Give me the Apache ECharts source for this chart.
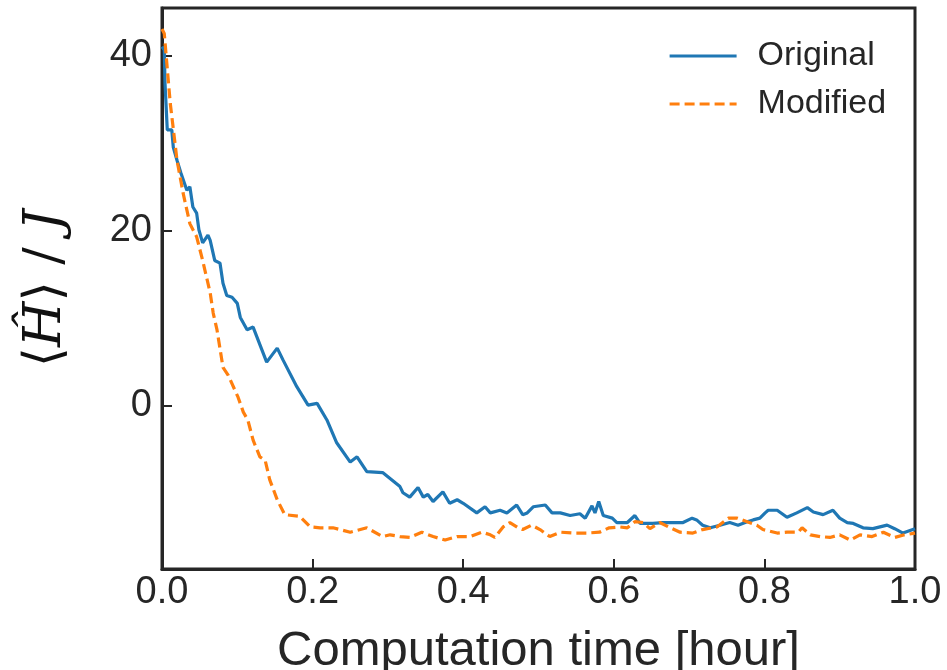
<!DOCTYPE html>
<html>
<head>
<meta charset="utf-8">
<script src="https://cdn.jsdelivr.net/npm/echarts@6/dist/echarts.min.js"></script>
<style>
  html, body { margin: 0; padding: 0; background: #fff; }
  #container { width: 947px; height: 670px; }
</style>
</head>
<body>
<div id="container"></div>
<script>
const timeOriginal = [0, 0.003, 0.004, 0.007, 0.013, 0.015, 0.020, 0.025, 0.033, 0.037, 0.041, 0.046, 0.049, 0.054, 0.061, 0.064, 0.070, 0.077, 0.081, 0.086, 0.093, 0.100, 0.104, 0.113, 0.121, 0.139, 0.153, 0.161, 0.179, 0.194, 0.206, 0.219, 0.232, 0.250, 0.259, 0.272, 0.293, 0.316, 0.320, 0.329, 0.340, 0.347, 0.353, 0.360, 0.373, 0.382, 0.392, 0.400, 0.418, 0.429, 0.436, 0.449, 0.458, 0.471, 0.479, 0.485, 0.493, 0.509, 0.518, 0.529, 0.542, 0.555, 0.562, 0.571, 0.575, 0.580, 0.586, 0.598, 0.604, 0.618, 0.628, 0.635, 0.652, 0.665, 0.678, 0.692, 0.704, 0.710, 0.718, 0.728, 0.741, 0.754, 0.765, 0.777, 0.785, 0.794, 0.801, 0.805, 0.817, 0.830, 0.843, 0.857, 0.865, 0.878, 0.891, 0.900, 0.910, 0.918, 0.931, 0.944, 0.963, 0.973, 0.984, 1.0];
const valOriginal = [41.0, 40.6, 36.8, 31.5, 31.5, 29.5, 28.0, 26.6, 24.6, 25.0, 22.7, 22.0, 20.1, 18.6, 19.5, 18.9, 16.6, 16.3, 14.0, 12.6, 12.4, 11.7, 10.1, 8.7, 9.0, 5.0, 6.6, 5.2, 2.2, 0.1, 0.3, -1.6, -4.2, -6.4, -5.8, -7.5, -7.6, -9.2, -9.9, -10.4, -9.3, -10.4, -10.1, -10.9, -9.8, -11.1, -10.7, -11.1, -12.2, -11.5, -12.2, -11.9, -12.2, -11.3, -12.4, -12.2, -11.5, -11.3, -12.2, -12.2, -12.5, -12.3, -12.8, -11.4, -12.2, -10.9, -12.5, -12.8, -13.3, -13.3, -12.5, -13.4, -13.4, -13.3, -13.3, -13.3, -12.8, -13.0, -13.6, -13.9, -13.6, -13.3, -13.6, -13.2, -13.0, -12.8, -12.2, -11.9, -11.9, -12.7, -12.2, -11.6, -12.1, -12.4, -11.9, -12.8, -13.3, -13.4, -13.9, -14.0, -13.6, -14.0, -14.5, -14.0];

const timeModified = [0, 0.003, 0.011, 0.020, 0.028, 0.037, 0.046, 0.054, 0.064, 0.068, 0.073, 0.081, 0.088, 0.101, 0.108, 0.114, 0.121, 0.130, 0.137, 0.143, 0.153, 0.163, 0.183, 0.197, 0.210, 0.227, 0.250, 0.272, 0.293, 0.303, 0.316, 0.329, 0.345, 0.360, 0.376, 0.392, 0.409, 0.425, 0.436, 0.442, 0.453, 0.462, 0.473, 0.479, 0.491, 0.502, 0.515, 0.529, 0.546, 0.564, 0.581, 0.594, 0.608, 0.618, 0.628, 0.639, 0.648, 0.661, 0.675, 0.688, 0.705, 0.718, 0.737, 0.752, 0.764, 0.777, 0.790, 0.798, 0.817, 0.830, 0.845, 0.850, 0.861, 0.874, 0.887, 0.900, 0.914, 0.927, 0.943, 0.958, 0.973, 0.986, 1.0];
const valModified = [43.0, 42.5, 34.5, 28.0, 24.3, 20.8, 19.3, 16.6, 12.9, 10.6, 8.7, 4.4, 3.5, 1.0, -0.7, -1.6, -3.9, -5.8, -6.2, -8.4, -10.7, -12.4, -12.6, -13.8, -13.9, -13.9, -14.4, -13.9, -14.9, -14.7, -14.9, -15.0, -14.4, -14.9, -15.3, -14.9, -14.9, -14.4, -14.7, -15.0, -13.8, -13.3, -13.9, -14.1, -13.6, -14.1, -14.9, -14.4, -14.5, -14.5, -14.4, -13.9, -13.8, -13.9, -13.2, -13.3, -14.0, -13.3, -13.9, -14.4, -14.5, -14.1, -13.8, -12.8, -12.8, -13.2, -13.6, -14.1, -14.5, -14.4, -14.4, -13.9, -14.7, -14.9, -15.0, -14.7, -15.3, -14.7, -14.9, -14.4, -15.0, -14.7, -14.5];

const yTicks = [0, 20, 40];
const seriesNames = ['Original', 'Modified'];

const axisColor = '#262626';
const textColor = '#262626';
const font = 'Liberation Sans';

function pairs(xs, ys) {
    return xs.map((x, i) => [x, ys[i]]);
}

let myChart = echarts.init(document.getElementById('container'));

let option = {
    animation: false,
    backgroundColor: '#fff',
    grid: {
        left: 162, right: 32, top: 8, bottom: 101,
        outerBoundsMode: 'none',
        containLabel: false,
        show: true,
        borderColor: axisColor,
        borderWidth: 3
    },
    legend: {
        orient: 'vertical',
        left: 663,
        top: 34,
        itemWidth: 67,
        itemHeight: 14,
        itemGap: 14,
        itemStyle: { opacity: 0 },
        lineStyle: { width: 3.2 },
        textStyle: { fontFamily: font, fontSize: 34, color: textColor, padding: [0, 0, 0, 16] },
        data: seriesNames
    },
    xAxis: {
        type: 'value',
        min: 0, max: 1, interval: 0.2,
        splitLine: { show: false },
        axisLine: { onZero: false, lineStyle: { color: axisColor, width: 3 } },
        axisTick: { inside: true, length: 10, lineStyle: { color: axisColor, width: 2 } },
        axisLabel: {
            fontFamily: font, fontSize: 38, color: textColor, margin: 5,
            showMinLabel: true, showMaxLabel: true,
            formatter: v => v.toFixed(1)
        },
        name: 'Computation time [hour]',
        nameLocation: 'middle',
        nameGap: 58,
        nameTextStyle: { fontFamily: font, fontSize: 49, color: textColor }
    },
    yAxis: {
        type: 'value',
        min: -18.6, max: 45.4,
        splitLine: { show: false },
        axisLine: { onZero: false, lineStyle: { color: axisColor, width: 3 } },
        axisTick: { inside: true, length: 10, customValues: yTicks, lineStyle: { color: axisColor, width: 2 } },
        axisLabel: { fontFamily: font, fontSize: 38, color: textColor, margin: 10, customValues: yTicks },
        name: '{a|⟨}{b|Ĥ}{a|⟩ / }{b|J}',
        nameLocation: 'middle',
        nameGap: 90,
        nameRotate: 90,
        nameTextStyle: {
            color: '#111',
            rich: {
                a: { fontFamily: 'DejaVu Serif', fontSize: 52, color: '#111' },
                b: { fontFamily: 'DejaVu Serif', fontStyle: 'italic', fontSize: 52, color: '#111' }
            }
        }
    },
    series: [
        {
            name: seriesNames[0],
            type: 'line',
            data: pairs(timeOriginal, valOriginal),
            symbol: 'none',
            lineStyle: { color: '#1f77b4', width: 3.2 },
            itemStyle: { color: '#1f77b4' }
        },
        {
            name: seriesNames[1],
            type: 'line',
            data: pairs(timeModified, valModified),
            symbol: 'none',
            lineStyle: { color: '#ff7f0e', width: 3.2, type: [10, 5] },
            itemStyle: { color: '#ff7f0e' }
        }
    ]
};
myChart.setOption(option);
</script>
</body>
</html>
